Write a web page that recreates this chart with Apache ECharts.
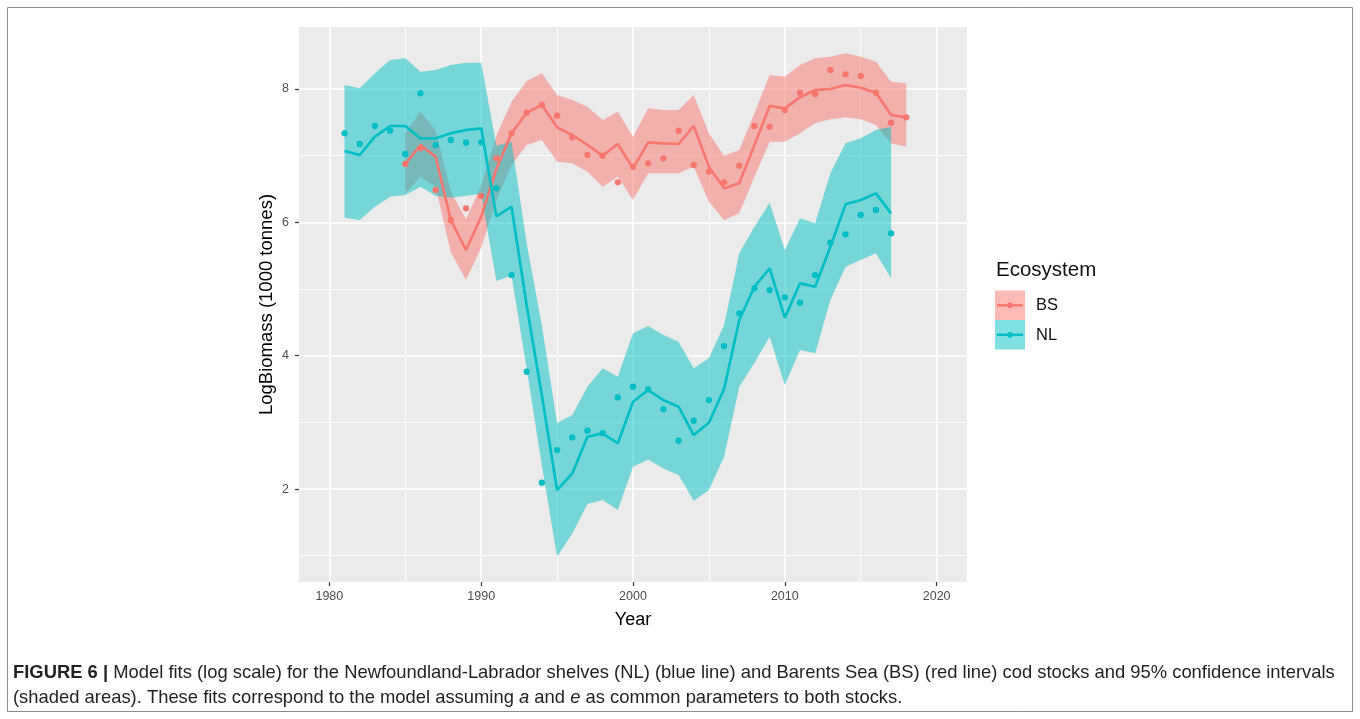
<!DOCTYPE html>
<html><head><meta charset="utf-8">
<script src="https://cdn.jsdelivr.net/npm/echarts@6/dist/echarts.min.js"></script>
<style>html,body{margin:0;padding:0;background:#fff}#c{width:1360px;height:719px}</style>
</head><body><div id="c"></div>
<script>
// ---- data ----
const xMajor = [1980, 1990, 2000, 2010, 2020];
const xMinor = [1985, 1995, 2005, 2015];
const yMajor = [2, 4, 6, 8];
const yMinor = [1, 3, 5, 7];

const nlYears = [1981,1982,1983,1984,1985,1986,1987,1988,1989,1990,1991,1992,1993,1994,1995,1996,1997,1998,1999,2000,2001,2002,2003,2004,2005,2006,2007,2008,2009,2010,2011,2012,2013,2014,2015,2016,2017];
const nlFit   = [7.07,7.01,7.285,7.445,7.445,7.26,7.26,7.335,7.385,7.41,6.09,6.235,4.75,3.4,1.985,2.235,2.785,2.835,2.685,3.31,3.485,3.335,3.235,2.81,2.995,3.5,4.535,5.035,5.31,4.57,5.085,5.035,5.635,6.27,6.335,6.435,6.135];
const nlObs   = [7.335,7.175,7.445,7.375,7.025,7.935,7.16,7.235,7.195,7.2,6.51,5.21,3.76,2.095,2.585,2.775,2.875,2.84,3.375,3.535,3.495,3.2,2.725,3.025,3.335,4.145,4.635,5.01,4.985,4.875,4.795,5.21,5.695,5.82,6.11,6.185,5.835];
const nlUpper = [8.06,8.01,8.235,8.435,8.46,8.26,8.285,8.36,8.395,8.395,7.15,7.21,5.68,4.45,2.99,3.11,3.535,3.81,3.685,4.335,4.445,4.31,4.21,3.81,3.96,4.46,5.535,5.935,6.295,5.585,6.06,5.985,6.735,7.185,7.26,7.385,7.435];
const nlLower = [6.07,6.035,6.235,6.385,6.41,6.535,6.4,6.37,6.4,6.43,5.12,5.2,3.8,2.35,0.99,1.335,1.775,1.835,1.685,2.335,2.445,2.31,2.21,1.825,1.985,2.485,3.535,3.89,4.285,3.56,4.085,4.035,4.835,5.335,5.435,5.535,5.16];

const bsYears = [1985,1986,1987,1988,1989,1990,1991,1992,1993,1994,1995,1996,1997,1998,1999,2000,2001,2002,2003,2004,2005,2006,2007,2008,2009,2010,2011,2012,2013,2014,2015,2016,2017,2018];
const bsFit   = [6.875,7.16,6.985,6.035,5.585,6.085,6.8,7.335,7.645,7.76,7.425,7.31,7.16,7.0,7.175,6.81,7.2,7.185,7.175,7.445,6.835,6.51,6.585,7.16,7.745,7.71,7.875,7.985,8.0,8.06,8.02,7.945,7.61,7.575];
const bsObs   = [6.875,7.11,6.485,6.035,6.21,6.395,6.96,7.335,7.645,7.76,7.6,7.275,7.01,7.0,6.6,6.835,6.885,6.96,7.37,6.86,6.76,6.6,6.85,7.445,7.435,7.685,7.945,7.925,8.285,8.22,8.195,7.945,7.495,7.575];
const bsUpper = [7.335,7.66,7.385,6.46,6.05,6.55,7.3,7.81,8.12,8.235,7.91,7.835,7.735,7.535,7.66,7.285,7.71,7.685,7.685,7.91,7.335,7.0,7.085,7.635,8.21,8.185,8.36,8.46,8.485,8.535,8.485,8.41,8.11,8.085];
const bsLower = [6.435,6.685,6.535,5.55,5.135,5.62,6.33,6.86,7.16,7.235,6.91,6.885,6.76,6.535,6.685,6.335,6.735,6.735,6.735,6.835,6.31,6.035,6.135,6.685,7.21,7.21,7.335,7.485,7.545,7.575,7.545,7.46,7.185,7.135];

const legendTitle = 'Ecosystem';
const legendNames = ['BS', 'NL'];
// ---- end data ----

const BS = '#F8766D', NL = '#00BFC4';
const FONT = '"Liberation Sans", Arial, sans-serif';

function pairs(xs, ys) { return xs.map((x, i) => [x, ys[i]]); }

function ribbon(name, yrs, lo, hi, color) {
  return {
    type: 'custom', name: name + ' CI', coordinateSystem: 'cartesian2d', silent: true, z: 1,
    xAxisIndex: 0, yAxisIndex: 0,
    data: yrs.map((y, i) => [y, lo[i], hi[i]]),
    encode: { x: 0, y: [1, 2] },
    renderItem: function (params, api) {
      if (params.dataIndex !== 0) return null;
      const pts = [];
      for (let i = 0; i < yrs.length; i++) pts.push(api.coord([yrs[i], hi[i]]));
      for (let i = yrs.length - 1; i >= 0; i--) pts.push(api.coord([yrs[i], lo[i]]));
      return { type: 'polygon', shape: { points: pts }, style: { fill: color } };
    }
  };
}

const chart = echarts.init(document.getElementById('c'), null, { renderer: 'canvas' });

const tickLabel = { color: '#4D4D4D', fontSize: 12.5, fontFamily: FONT };

const option = {
  backgroundColor: '#ffffff',
  animation: false,
  grid: { left: 299, top: 27, right: 393, bottom: 137, containLabel: false,
          show: true, backgroundColor: '#EBEBEB', borderWidth: 0 },
  xAxis: [
    { type: 'value', min: 1978, max: 2022, position: 'bottom',
      name: 'Year', nameLocation: 'middle', nameGap: 29,
      nameTextStyle: { color: '#000', fontSize: 18, fontFamily: FONT },
      axisLine: { show: false },
      axisTick: { show: true, length: 4, lineStyle: { color: '#333', width: 1.2 }, customValues: xMajor },
      axisLabel: Object.assign({ margin: 8, customValues: xMajor, formatter: v => String(v) }, tickLabel),
      splitLine: { show: true, lineStyle: { color: '#FFFFFF', width: 1.6 } } },
    { type: 'value', min: 1978, max: 2022, position: 'top',
      axisLine: { show: false },
      axisTick: { show: false, customValues: xMinor },
      axisLabel: { show: false, customValues: xMinor },
      splitLine: { show: true, lineStyle: { color: '#FFFFFF', width: 0.8 } } }
  ],
  yAxis: [
    { type: 'value', min: 0.606, max: 8.93, position: 'left',
      name: 'LogBiomass (1000 tonnes)', nameLocation: 'middle', nameGap: 23,
      nameTextStyle: { color: '#000', fontSize: 18.5, fontFamily: FONT },
      axisLine: { show: false },
      axisTick: { show: true, length: 4, lineStyle: { color: '#333', width: 1.2 }, customValues: yMajor },
      axisLabel: Object.assign({ margin: 10, customValues: yMajor, formatter: v => String(v) }, tickLabel),
      splitLine: { show: true, lineStyle: { color: '#FFFFFF', width: 1.6 } } },
    { type: 'value', min: 0.606, max: 8.93, position: 'right',
      axisLine: { show: false },
      axisTick: { show: false, customValues: yMinor },
      axisLabel: { show: false, customValues: yMinor },
      splitLine: { show: true, lineStyle: { color: '#FFFFFF', width: 0.8 } } }
  ],
  series: [
    ribbon('BS', bsYears, bsLower, bsUpper, 'rgba(248,118,109,0.5)'),
    ribbon('NL', nlYears, nlLower, nlUpper, 'rgba(0,191,196,0.5)'),
    { type: 'line', name: 'BS', data: pairs(bsYears, bsFit), symbol: 'none', z: 3,
      lineStyle: { color: BS, width: 2.6 }, itemStyle: { color: BS } },
    { type: 'line', name: 'NL', data: pairs(nlYears, nlFit), symbol: 'none', z: 3,
      lineStyle: { color: NL, width: 2.6 }, itemStyle: { color: NL } },
    { type: 'scatter', name: 'BS obs', data: pairs(bsYears, bsObs), symbolSize: 6.3, z: 4,
      itemStyle: { color: BS, opacity: 1 } },
    { type: 'scatter', name: 'NL obs', data: pairs(nlYears, nlObs), symbolSize: 6.3, z: 4,
      itemStyle: { color: NL, opacity: 1 } }
  ],
  graphic: [
    { type: 'rect', shape: { x: 7.5, y: 7.5, width: 1345, height: 704 },
      style: { fill: 'none', stroke: '#8c8c8c', lineWidth: 1 }, z: 0 },
    // legend
    { type: 'text', left: 996, top: 260, style: { text: legendTitle, fontSize: 20.5, fill: '#111', fontFamily: FONT } },
    { type: 'rect', shape: { x: 995, y: 290.5, width: 30, height: 29.5 }, style: { fill: 'rgba(248,118,109,0.5)' } },
    { type: 'rect', shape: { x: 995, y: 320, width: 30, height: 29.5 }, style: { fill: 'rgba(0,191,196,0.5)' } },
    { type: 'line', shape: { x1: 997, y1: 305.3, x2: 1023, y2: 305.3 }, style: { stroke: BS, lineWidth: 2.4 } },
    { type: 'circle', shape: { cx: 1010, cy: 305.3, r: 2.9 }, style: { fill: BS } },
    { type: 'line', shape: { x1: 997, y1: 334.8, x2: 1023, y2: 334.8 }, style: { stroke: NL, lineWidth: 2.4 } },
    { type: 'circle', shape: { cx: 1010, cy: 334.8, r: 2.9 }, style: { fill: NL } },
    { type: 'text', left: 1036, top: 297, style: { text: legendNames[0], fontSize: 16.5, fill: '#111', fontFamily: FONT } },
    { type: 'text', left: 1036, top: 326.5, style: { text: legendNames[1], fontSize: 16.5, fill: '#111', fontFamily: FONT } },
    // caption
    { type: 'text', left: 13, top: 664, style: {
        text: '{b|FIGURE 6 |} Model fits (log scale) for the Newfoundland-Labrador shelves (NL) (blue line) and Barents Sea (BS) (red line) cod stocks and 95% confidence intervals',
        fontSize: 18.4, fill: '#231F20', fontFamily: FONT,
        rich: { b: { fontWeight: 'bold', fontSize: 18.4, fill: '#231F20', fontFamily: FONT } } } },
    { type: 'text', left: 13, top: 689, style: {
        text: '(shaded areas). These fits correspond to the model assuming {i|a} and {i|e} as common parameters to both stocks.',
        fontSize: 18.4, fill: '#231F20', fontFamily: FONT,
        rich: { i: { fontStyle: 'italic', fontSize: 18.4, fill: '#231F20', fontFamily: FONT } } } }
  ]
};
chart.setOption(option);
</script></body></html>
